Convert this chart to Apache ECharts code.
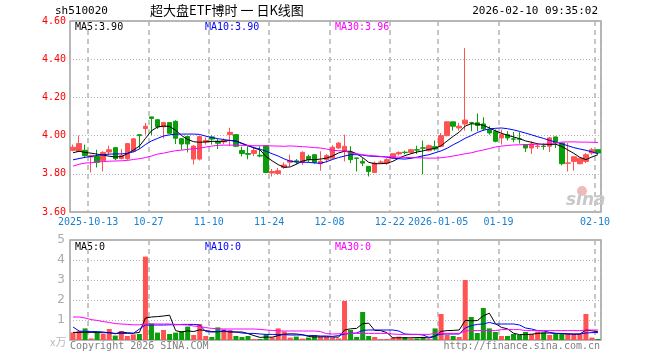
<!DOCTYPE html>
<html><head><meta charset="utf-8">
<script src="https://cdn.jsdelivr.net/npm/echarts@6/dist/echarts.min.js"></script>
<style>html,body{margin:0;padding:0;background:#fff}#c{width:660px;height:360px}</style>
</head><body><div id="c"></div>
<script>
const dates = [
"2025-09-30","2025-10-09","2025-10-10","2025-10-13","2025-10-14","2025-10-15","2025-10-16","2025-10-17","2025-10-20","2025-10-21","2025-10-22","2025-10-23","2025-10-24","2025-10-27","2025-10-28","2025-10-29","2025-10-30","2025-10-31",
"2025-11-03","2025-11-04","2025-11-05","2025-11-06","2025-11-07","2025-11-10","2025-11-11","2025-11-12","2025-11-13","2025-11-14","2025-11-17","2025-11-18","2025-11-19","2025-11-20","2025-11-21","2025-11-24","2025-11-25","2025-11-26","2025-11-27","2025-11-28",
"2025-12-01","2025-12-02","2025-12-03","2025-12-04","2025-12-05","2025-12-08","2025-12-09","2025-12-10","2025-12-11","2025-12-12","2025-12-15","2025-12-16","2025-12-17","2025-12-18","2025-12-19","2025-12-22","2025-12-23","2025-12-24","2025-12-25","2025-12-26","2025-12-29","2025-12-30","2025-12-31",
"2026-01-05","2026-01-06","2026-01-07","2026-01-08","2026-01-09","2026-01-12","2026-01-13","2026-01-14","2026-01-15","2026-01-16","2026-01-19","2026-01-20","2026-01-21","2026-01-22","2026-01-23","2026-01-26","2026-01-27","2026-01-28","2026-01-29","2026-01-30",
"2026-02-02","2026-02-03","2026-02-04","2026-02-05","2026-02-06","2026-02-09","2026-02-10"];

const tickDates = ["2025-10-13","2025-10-27","2025-11-10","2025-11-24","2025-12-08","2025-12-22","2026-01-05","2026-01-19","2026-02-10"];
const tickTexts = ["2025-10-13","10-27","11-10","11-24","12-08","12-22","2026-01-05","01-19","02-10"];
const priceTicks = [3.6, 4.6, 0.2];
const volTicks = [0, 5, 1];

const opens = [3.923,3.918,3.923,3.888,3.891,3.868,3.914,3.937,3.880,3.879,3.917,4.005,4.037,4.098,4.083,4.046,4.068,4.075,3.984,3.995,3.877,3.877,3.966,3.993,3.970,3.967,4.005,4.005,3.922,3.906,3.907,3.897,3.947,3.804,3.802,3.833,3.861,3.868,3.860,3.891,3.900,3.853,3.874,3.882,3.935,3.918,3.914,3.883,3.865,3.839,3.807,3.860,3.856,3.882,3.904,3.913,3.912,3.926,3.936,3.921,3.942,3.944,4.000,4.072,4.040,4.061,4.068,4.067,4.061,4.032,4.023,3.988,4.005,3.983,3.983,3.953,3.935,3.943,3.945,3.944,3.993,3.961,3.855,3.865,3.853,3.865,3.909,3.926];
const closes = [3.939,3.958,3.895,3.895,3.860,3.912,3.926,3.879,3.895,3.958,3.983,4.000,4.049,4.090,4.046,4.068,4.012,3.986,3.956,3.956,3.945,3.995,3.974,3.982,3.960,3.975,4.017,3.944,3.906,3.902,3.922,3.893,3.807,3.812,3.816,3.846,3.870,3.862,3.912,3.874,3.860,3.865,3.895,3.939,3.961,3.944,3.874,3.881,3.856,3.812,3.856,3.862,3.874,3.905,3.912,3.911,3.926,3.924,3.934,3.947,3.930,4.000,4.072,4.049,4.049,4.081,4.066,4.053,4.035,4.014,3.970,4.005,3.988,3.981,3.981,3.935,3.956,3.945,3.943,3.988,3.961,3.853,3.857,3.889,3.882,3.900,3.926,3.909];
const lows = [3.918,3.915,3.882,3.807,3.833,3.812,3.900,3.872,3.875,3.873,3.912,3.930,4.005,4.002,4.035,3.986,4.010,3.956,3.926,3.912,3.849,3.870,3.953,3.953,3.930,3.955,3.947,3.940,3.891,3.876,3.893,3.886,3.805,3.786,3.795,3.826,3.839,3.850,3.847,3.860,3.853,3.816,3.860,3.875,3.930,3.865,3.856,3.812,3.840,3.786,3.805,3.853,3.847,3.877,3.896,3.902,3.907,3.904,3.798,3.918,3.921,3.939,3.996,4.026,4.026,4.026,4.023,4.023,4.026,4.005,3.965,3.953,3.974,3.965,3.958,3.914,3.904,3.930,3.926,3.914,3.935,3.844,3.812,3.816,3.849,3.856,3.900,3.905];
const highs = [3.953,4.000,3.953,3.900,3.926,3.918,3.947,3.937,3.930,3.962,3.988,4.005,4.066,4.098,4.085,4.072,4.070,4.080,3.988,3.998,3.950,3.998,3.990,4.002,3.982,3.985,4.041,4.006,3.942,3.944,3.942,3.944,3.950,3.825,3.830,3.860,3.900,3.877,3.918,3.900,3.902,3.918,3.904,3.949,3.965,4.005,3.944,3.884,3.882,3.839,3.865,3.870,3.882,3.905,3.917,3.921,3.930,3.947,3.974,3.953,3.974,4.014,4.075,4.072,4.067,4.458,4.072,4.116,4.096,4.049,4.032,4.032,4.023,4.019,4.018,3.955,3.970,3.960,3.960,3.993,3.995,3.961,3.961,3.889,3.882,3.909,3.935,3.926];
const volumes = [0.38,0.45,0.58,0.08,0.38,0.30,0.55,0.22,0.45,0.20,0.28,0.30,4.17,0.83,0.37,0.50,0.30,0.37,0.45,0.67,0.25,0.80,0.20,0.15,0.63,0.53,0.50,0.20,0.15,0.20,0.05,0.05,0.28,0.13,0.58,0.42,0.12,0.17,0.07,0.12,0.25,0.17,0.17,0.12,0.08,1.95,0.50,0.15,1.40,0.20,0.15,0.05,0.05,0.12,0.17,0.15,0.08,0.08,0.15,0.05,0.58,1.30,0.25,0.20,0.15,3.00,1.15,0.35,1.60,0.58,0.40,0.20,0.20,0.30,0.25,0.40,0.30,0.42,0.38,0.25,0.30,0.30,0.30,0.30,0.30,1.30,0.12,0.05];

const ma5 = [3.910,3.918,3.912,3.908,3.903,3.898,3.892,3.888,3.890,3.905,3.924,3.945,3.985,4.025,4.045,4.050,4.048,4.028,4.000,3.980,3.968,3.965,3.967,3.970,3.970,3.970,3.975,3.972,3.960,3.948,3.935,3.925,3.890,3.868,3.848,3.834,3.836,3.850,3.866,3.874,3.874,3.877,3.882,3.893,3.909,3.918,3.918,3.905,3.885,3.860,3.853,3.853,3.855,3.865,3.882,3.895,3.905,3.914,3.920,3.928,3.933,3.947,3.972,3.996,4.018,4.050,4.062,4.060,4.054,4.040,4.025,4.012,4.002,3.993,3.984,3.972,3.965,3.957,3.953,3.953,3.955,3.943,3.925,3.907,3.886,3.874,3.888,3.900];
const ma10 = [3.873,3.880,3.886,3.891,3.896,3.900,3.903,3.904,3.904,3.907,3.915,3.930,3.953,3.972,3.985,3.998,4.004,4.008,4.008,4.008,4.008,4.006,3.997,3.990,3.984,3.979,3.975,3.970,3.958,3.946,3.937,3.929,3.918,3.905,3.893,3.878,3.866,3.862,3.861,3.860,3.857,3.855,3.863,3.875,3.885,3.893,3.900,3.900,3.898,3.893,3.891,3.890,3.887,3.882,3.879,3.877,3.881,3.887,3.894,3.900,3.910,3.920,3.934,3.952,3.968,3.986,4.000,4.016,4.028,4.035,4.038,4.040,4.036,4.030,4.022,4.013,4.004,3.994,3.985,3.975,3.966,3.957,3.947,3.937,3.930,3.923,3.915,3.905];
const ma30 = [3.840,3.850,3.856,3.858,3.862,3.864,3.866,3.867,3.868,3.870,3.875,3.879,3.885,3.893,3.903,3.908,3.915,3.921,3.924,3.928,3.931,3.934,3.940,3.945,3.949,3.950,3.950,3.950,3.949,3.948,3.947,3.947,3.947,3.946,3.945,3.944,3.946,3.944,3.942,3.940,3.937,3.935,3.930,3.923,3.921,3.920,3.909,3.905,3.900,3.896,3.894,3.891,3.889,3.888,3.887,3.886,3.885,3.884,3.883,3.882,3.882,3.884,3.888,3.893,3.899,3.905,3.910,3.918,3.925,3.932,3.940,3.945,3.948,3.951,3.952,3.953,3.954,3.955,3.956,3.958,3.962,3.966,3.967,3.967,3.966,3.966,3.965,3.964];
const vma5 = [0.38,0.38,0.39,0.38,0.38,0.36,0.38,0.31,0.40,0.36,0.34,0.38,1.10,1.15,1.17,1.20,1.24,0.47,0.40,0.46,0.42,0.51,0.47,0.42,0.41,0.46,0.40,0.40,0.40,0.32,0.22,0.13,0.15,0.14,0.22,0.29,0.31,0.30,0.27,0.18,0.15,0.16,0.16,0.15,0.14,0.50,0.56,0.58,0.82,0.84,0.48,0.47,0.37,0.11,0.11,0.11,0.11,0.12,0.13,0.10,0.19,0.43,0.47,0.48,0.50,0.98,0.96,0.97,1.21,1.34,0.82,0.63,0.56,0.34,0.27,0.27,0.29,0.33,0.35,0.35,0.33,0.33,0.31,0.29,0.30,0.50,0.46,0.41];
const vma10 = [0.65,0.45,0.42,0.42,0.42,0.40,0.35,0.33,0.33,0.33,0.33,0.55,0.75,0.75,0.75,0.75,0.76,0.76,0.78,0.78,0.78,0.75,0.42,0.40,0.42,0.42,0.42,0.40,0.35,0.33,0.33,0.30,0.28,0.28,0.28,0.27,0.25,0.25,0.25,0.22,0.22,0.20,0.20,0.18,0.22,0.30,0.33,0.35,0.48,0.50,0.50,0.50,0.50,0.50,0.45,0.30,0.28,0.28,0.25,0.13,0.20,0.30,0.30,0.30,0.30,0.60,0.72,0.78,0.80,0.88,0.80,0.80,0.80,0.80,0.75,0.60,0.55,0.47,0.45,0.38,0.33,0.32,0.30,0.30,0.30,0.35,0.37,0.37];
const vma30 = [1.15,1.15,1.10,1.02,0.98,0.92,0.88,0.82,0.80,0.78,0.76,0.76,0.80,0.80,0.80,0.80,0.80,0.78,0.76,0.75,0.70,0.67,0.62,0.58,0.56,0.55,0.55,0.55,0.55,0.55,0.55,0.53,0.50,0.48,0.46,0.45,0.45,0.45,0.45,0.45,0.45,0.42,0.32,0.30,0.31,0.33,0.33,0.33,0.33,0.33,0.33,0.33,0.33,0.30,0.28,0.28,0.28,0.28,0.28,0.28,0.33,0.33,0.33,0.33,0.33,0.45,0.47,0.47,0.47,0.47,0.47,0.52,0.52,0.52,0.52,0.47,0.47,0.47,0.47,0.47,0.47,0.47,0.47,0.47,0.47,0.50,0.50,0.50];

const RED = '#ff5252', GREEN = '#0a9e0a';
const MONO = '"DejaVu Sans Mono", "Liberation Mono", monospace';

const tickIdx = tickDates.map(d => dates.indexOf(d));
const isTick = (i) => tickIdx.indexOf(i) >= 0;
const candles = dates.map((d, i) => [opens[i], closes[i], lows[i], highs[i]]);
const volData = volumes.map((v, i) => ({
  value: v,
  itemStyle: { color: closes[i] >= opens[i] ? RED : GREEN }
}));

const vSplit = { show: true, interval: (i) => isTick(i), lineStyle: { color: '#b4b4b4', type: [5, 4], width: 1.5 } };
const hSplit = { show: true, lineStyle: { color: '#b4b4b4', type: [1, 2], width: 1 } };

const chart = echarts.init(document.getElementById('c'), null, { renderer: 'canvas' });
const lineS = (name, data, color, xi, yi) => ({
  name, type: 'line', data, xAxisIndex: xi, yAxisIndex: yi, symbol: 'none',
  lineStyle: { color, width: 1 }, itemStyle: { color }, silent: true, z: 3
});
chart.setOption({
  animation: false,
  backgroundColor: '#fff',
  grid: [
    { left: 70, top: 21, width: 531, height: 191, show: true, borderColor: '#a0a0a0', borderWidth: 1.5 },
    { left: 70, top: 240, width: 531, height: 100, show: true, borderColor: '#a0a0a0', borderWidth: 1.5 }
  ],
  xAxis: [
    { type: 'category', gridIndex: 0, data: dates, boundaryGap: true,
      axisLine: { show: false }, axisTick: { show: false },
      axisLabel: { interval: (i) => isTick(i), formatter: (v) => tickTexts[tickDates.indexOf(v)],
        color: '#1a80d0', fontFamily: MONO, fontSize: 10, margin: 5, padding: [0, 6, 0, 0] },
      splitLine: vSplit },
    { type: 'category', gridIndex: 1, data: dates, boundaryGap: true,
      axisLine: { show: false }, axisTick: { show: false }, axisLabel: { show: false },
      splitLine: vSplit }
  ],
  yAxis: [
    { type: 'value', gridIndex: 0, min: priceTicks[0], max: priceTicks[1], interval: priceTicks[2],
      axisLine: { show: false }, axisTick: { show: false },
      axisLabel: { color: '#ff0000', fontFamily: MONO, fontSize: 10, margin: 4, formatter: (v) => v.toFixed(2) },
      splitLine: hSplit },
    { type: 'value', gridIndex: 1, min: volTicks[0], max: volTicks[1], interval: volTicks[2],
      axisLine: { show: false }, axisTick: { show: false },
      axisLabel: { color: '#aaaaaa', fontFamily: '"DejaVu Sans", sans-serif', fontSize: 12, margin: 5,
        formatter: (v) => v === 0 ? '' : String(v) },
      splitLine: hSplit }
  ],
  series: [
    { name: 'K', type: 'candlestick', data: candles, xAxisIndex: 0, yAxisIndex: 0, barWidth: 5,
      itemStyle: { color: RED, color0: GREEN, borderColor: RED, borderColor0: GREEN, borderWidth: 1 }, z: 2 },
    lineS('MA5', ma5, '#000000', 0, 0),
    lineS('MA10', ma10, '#0000ff', 0, 0),
    lineS('MA30', ma30, '#ff00ff', 0, 0),
    { name: 'VOL', type: 'bar', data: volData, xAxisIndex: 1, yAxisIndex: 1, barWidth: 5, z: 2 },
    lineS('VMA5', vma5, '#000000', 1, 1),
    lineS('VMA10', vma10, '#0000ff', 1, 1),
    lineS('VMA30', vma30, '#ff00ff', 1, 1)
  ],
  graphic: [
    { type: 'text', left: 55, top: 6, style: { text: 'sh510020', font: '11px ' + MONO, fill: '#000' } },
    { type: 'text', left: 150, top: 4, style: { text: '超大盘ETF博时 一 日K线图', font: '13px "Noto Sans CJK SC"', fill: '#000' } },
    { type: 'text', right: 62, top: 6, style: { text: '2026-02-10 09:35:02', font: '11px ' + MONO, fill: '#000' } },
    { type: 'text', left: 75, top: 22, style: { text: 'MA5:3.90', font: '10px ' + MONO, fill: '#000' } },
    { type: 'text', left: 205, top: 22, style: { text: 'MA10:3.90', font: '10px ' + MONO, fill: '#0000ff' } },
    { type: 'text', left: 335, top: 22, style: { text: 'MA30:3.96', font: '10px ' + MONO, fill: '#ff00ff' } },
    { type: 'text', left: 75, top: 242, style: { text: 'MA5:0', font: '10px ' + MONO, fill: '#000' } },
    { type: 'text', left: 205, top: 242, style: { text: 'MA10:0', font: '10px ' + MONO, fill: '#0000ff' } },
    { type: 'text', left: 335, top: 242, style: { text: 'MA30:0', font: '10px ' + MONO, fill: '#ff00ff' } },
    { type: 'text', left: 50, top: 336, style: { text: 'x万', font: '11px "Noto Sans CJK SC"', fill: '#bbbbbb' } },
    { type: 'text', left: 70, top: 341, style: { text: 'Copyright 2026 SINA.COM', font: '10px ' + MONO, fill: '#808080' } },
    { type: 'text', right: 60, top: 341, style: { text: 'http://finance.sina.com.cn', font: '10px ' + MONO, fill: '#808080' } },
    { type: 'circle', shape: { cx: 582, cy: 191, r: 5 }, style: { fill: '#f3b8b8' }, z: 1 },
    { type: 'text', left: 566, top: 192, style: { text: 'sina', font: 'italic bold 17px "DejaVu Sans"', fill: '#c8c8c8' }, z: 1 }
  ]
});
</script></body></html>
